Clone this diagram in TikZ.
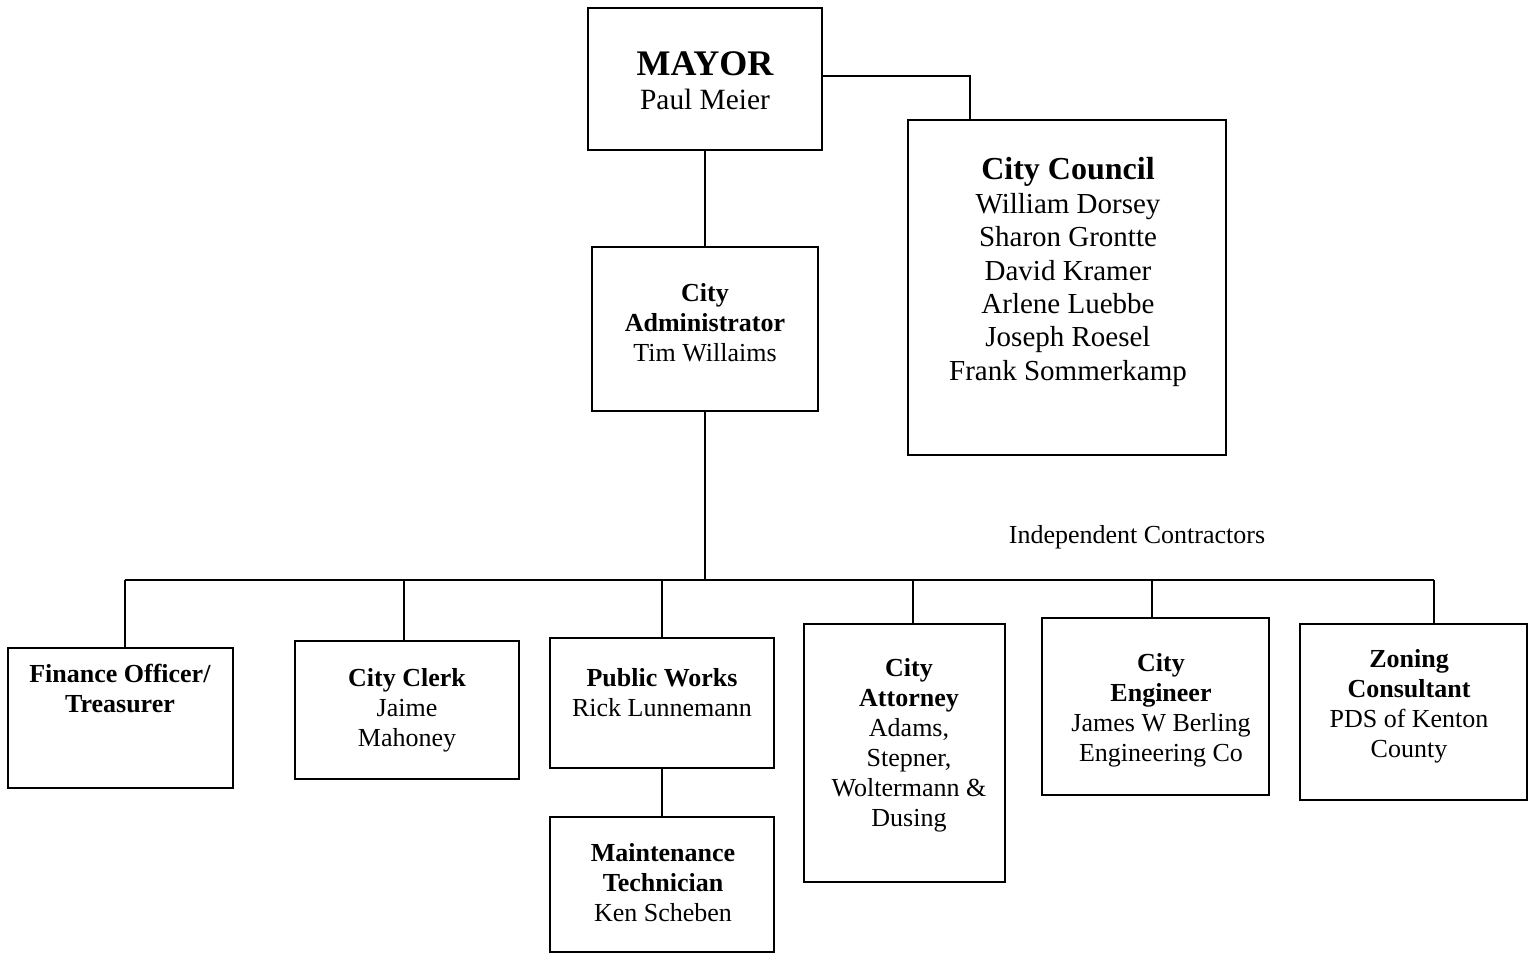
\documentclass[tikz,border=0pt]{standalone}
\usepackage{fontspec}
\setmainfont{Liberation Serif}
\usetikzlibrary{fit}
\begin{document}
\begin{tikzpicture}[x=0.5pt,y=-0.5pt,
  box/.style={draw, line width=1.1pt, inner sep=0pt},
  txt/.style={align=center, inner sep=0pt, font=\fontsize{13}{15}\selectfont},
  conn/.style={line width=1.1pt}]
\useasboundingbox (0,0) rectangle (1530,956);
% boxes
\node[box, fit={(588,8)(822,150)}] (mayor) {};
\node[box, fit={(908,120)(1226,455)}] (council) {};
\node[box, fit={(592,247)(818,411)}] (admin) {};
\node[box, fit={(8,648)(233,788)}] (fin) {};
\node[box, fit={(295,641)(519,779)}] (clerk) {};
\node[box, fit={(550,638)(774,768)}] (pw) {};
\node[box, fit={(550,817)(774,952)}] (maint) {};
\node[box, fit={(804,624)(1005,882)}] (att) {};
\node[box, fit={(1042,618)(1269,795)}] (eng) {};
\node[box, fit={(1300,624)(1527,800)}] (zon) {};
% texts
\node[txt, font=\fontsize{14.7}{17}\selectfont] (mayorT) at (705,81)
  {{\fontsize{18}{17}\selectfont\bfseries MAYOR}\\Paul Meier};
\node[txt, font=\fontsize{14.5}{16.7}\selectfont] (councilT) at (1068,272)
  {{\fontsize{16}{16.7}\selectfont\bfseries City Council}\\William Dorsey\\Sharon Grontte\\David Kramer\\Arlene Luebbe\\Joseph Roesel\\Frank Sommerkamp};
\node[txt] (adminT) at (705,323) {\textbf{City}\\\textbf{Administrator}\\Tim Willaims};
\node[txt] (indT) at (1137,537) {Independent Contractors};
\node[txt] (finT) at (120,689) {\textbf{Finance Officer/}\\\textbf{Treasurer}};
\node[txt] (clerkT) at (407,710) {\textbf{City Clerk}\\Jaime\\Mahoney};
\node[txt] (pwT) at (662,693) {\textbf{Public Works}\\Rick Lunnemann};
\node[txt] (maintT) at (663,883) {\textbf{Maintenance}\\\textbf{Technician}\\Ken Scheben};
\node[txt] (attT) at (909,745) {\textbf{City}\\\textbf{Attorney}\\Adams,\\Stepner,\\Woltermann \&\\Dusing};
\node[txt] (engT) at (1161,710) {\textbf{City}\\\textbf{Engineer}\\James W Berling\\Engineering Co};
\node[txt] (zonT) at (1409,706) {\textbf{Zoning}\\\textbf{Consultant}\\PDS of Kenton\\County};
% junction coordinates
\coordinate (cj) at (970,76);
\coordinate (b1) at (125,580);
\coordinate (b2) at (404,580);
\coordinate (b3) at (662,580);
\coordinate (b4) at (913,580);
\coordinate (b5) at (1152,580);
\coordinate (b6) at (1434,580);
% connectors
\draw[conn] (mayor.east |- cj) -- (cj) -- (cj |- council.north);
\draw[conn] (mayor.south) -- (admin.north);
\draw[conn] (admin.south) -- (admin.south |- b1);
\draw[conn] (b1) -- (b6);
\draw[conn] (b1) -- (b1 |- fin.north);
\draw[conn] (b2) -- (b2 |- clerk.north);
\draw[conn] (b3) -- (pw.north);
\draw[conn] (b4) -- (b4 |- att.north);
\draw[conn] (b5) -- (b5 |- eng.north);
\draw[conn] (b6) -- (b6 |- zon.north);
\draw[conn] (pw.south) -- (maint.north);
\end{tikzpicture}
\end{document}
